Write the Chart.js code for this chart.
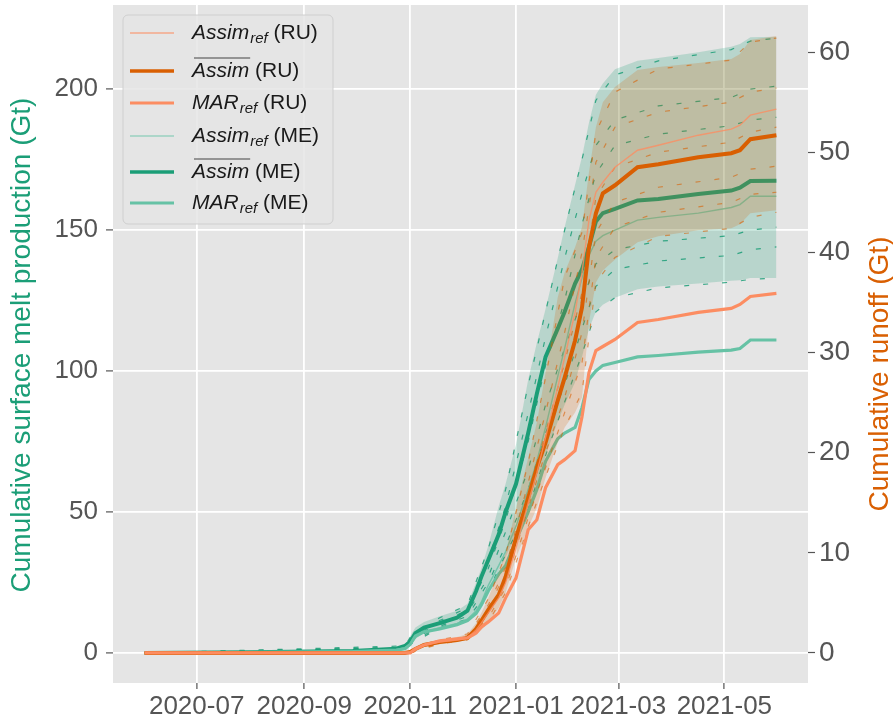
<!DOCTYPE html>
<html>
<head>
<meta charset="utf-8">
<script src="https://cdn.jsdelivr.net/npm/chart.js@4.4.1/dist/chart.umd.min.js"></script>
<style>
  html, body { margin: 0; padding: 0; background: #fff; }
  #wrap { width: 893px; height: 726px; }
</style>
</head>
<body>
<div id="wrap"><canvas id="meltChart" width="893" height="726"></canvas></div>
<script>
// x values are days since 2020-06-01
const dayGrid = [0, 60, 120, 145, 150, 153, 156, 161, 170, 180, 186, 191, 194, 198, 204, 208, 214, 221, 226, 231,
                 238, 242, 248, 252, 256, 260, 264, 271, 284, 296, 319, 338, 343, 349, 364];

// ME : cumulative surface melt production (Gt), left axis
const meanME = [0, 0.3, 0.7, 1.5, 2.5, 4, 7, 9, 10.6, 12.5, 15, 22, 27, 33, 42, 50, 60, 78, 92, 105,
                115, 121, 131, 136, 144, 153, 156, 157.5, 160.5, 161, 162.8, 164, 165, 167.4, 167.5];
const refME  = [0, 0.3, 0.7, 1.2, 2, 3, 5.5, 7.5, 9, 10.5, 12, 15, 18, 24, 31, 36, 45, 58, 68, 80,
                98, 108, 124, 133, 141, 146, 148, 150, 153.5, 154.5, 156, 158, 159, 162, 162];
const marME  = [0, 0.2, 0.5, 1, 1.5, 3, 6, 7.5, 8.5, 10, 11.5, 14, 17, 22, 28, 31, 40, 50, 58, 68,
                76, 78, 80, 87, 97, 100, 102, 103, 105, 105.5, 106.7, 107.4, 108, 111, 111];
const upME   = [0.2, 0.5, 1, 2, 3, 6, 9, 11, 13, 15, 17.5, 25, 30, 38, 52, 60, 74, 97, 110, 122,
                140, 151, 166, 176, 188, 198, 202, 207, 210, 211, 213, 215, 216, 218.4, 218.5];
const loME   = [0, 0.2, 0.5, 1, 1.8, 2.5, 5, 7, 8.5, 10, 12, 15, 18, 22.5, 29, 34, 42, 51, 58.5, 70,
                82, 88, 96, 105, 115, 121, 123.5, 126, 129, 130, 131, 132, 132.2, 133, 133];

// RU : cumulative runoff (Gt), right axis
const meanRU = [0, 0, 0, 0, 0, 0.1, 0.4, 0.8, 1.1, 1.3, 1.5, 2.4, 3.2, 4.3, 5.8, 7.6, 11.5, 15.5, 18.5, 21,
                25.2, 27.5, 31.2, 34.5, 40.5, 43.9, 45.9, 46.7, 48.5, 48.8, 49.5, 49.9, 50.2, 51.3, 51.7];
const refRU  = [0, 0, 0, 0, 0, 0.1, 0.4, 0.8, 1.1, 1.3, 1.5, 2.3, 3, 4, 5.5, 7, 10.5, 15, 18, 21.5,
                26.5, 29.5, 34, 38, 43.2, 46, 47, 48.5, 50.2, 50.7, 51.7, 52.3, 52.7, 53.7, 54.3];
const marRU  = [0, 0, 0, 0, 0, 0, 0.4, 0.8, 1.2, 1.4, 1.5, 2, 2.6, 3.1, 4, 5.5, 7.5, 12.3, 13.3, 16.5,
                18.8, 19.3, 20.2, 23.6, 28, 30.2, 30.6, 31.3, 33, 33.3, 34, 34.4, 34.8, 35.6, 35.9];
const upRU   = [0, 0, 0, 0, 0, 0.2, 0.6, 1, 1.3, 1.6, 1.9, 3, 4, 5.5, 8, 10, 14.5, 19.5, 23, 28,
                35.5, 38, 40.5, 42.5, 48, 52.5, 55, 56.5, 58.2, 58.5, 58.9, 59.3, 59.8, 61.2, 61.6];
const loRU   = [0, 0, 0, 0, 0, 0, 0.3, 0.6, 0.9, 1.1, 1.3, 1.8, 2.3, 3, 4.5, 6, 9.5, 12.5, 14.5, 17.5,
                21, 22.5, 24, 25.5, 33, 37, 38.2, 39.3, 41, 41.6, 42.2, 42.4, 42.8, 43.9, 44.2];

// ensemble members (dashed)
const memberDays = [0, 150, 153, 170, 186, 198, 208, 221, 231, 242, 252, 260, 271, 296, 338, 349, 364];
const ensME = [
  [0, 2.5, 5.5, 12.5, 17, 37, 58, 95, 121, 150, 175, 196, 205, 210, 214, 217, 218],
  [0, 2, 5, 11.5, 16, 33, 52, 85, 112, 140, 163, 180, 189, 194, 197, 200, 201],
  [0, 2, 4.5, 11, 15, 30, 47, 75, 102, 125, 152, 170, 180, 184, 187, 189, 190],
  [0, 1.5, 4, 10, 14, 27, 43, 65, 88, 108, 125, 138, 143, 146, 148, 150, 151],
  [0, 1.5, 3.5, 9.5, 13, 25, 38, 58, 78, 95, 115, 130, 136, 139, 141, 143, 144],
  [0, 1, 3, 9, 12, 22, 35, 51, 70, 89, 106, 121, 126, 129.5, 131.5, 132.5, 133]
];
const ensRU = [
  [0, 0, 0.2, 1.3, 1.9, 5.4, 9.8, 19, 27.5, 37.5, 42, 52, 56, 58.3, 59.2, 61, 61.4],
  [0, 0, 0.1, 1.2, 1.7, 4.8, 8.5, 17, 24, 32, 40, 49, 52.5, 54, 55, 56, 56.4],
  [0, 0, 0.1, 1.1, 1.6, 4.5, 8, 16, 22, 29, 36, 45.5, 48.5, 50, 51, 52, 52.5],
  [0, 0, 0.1, 1.0, 1.5, 4.0, 7, 14.5, 20, 25.5, 32, 42, 45, 46.5, 47.5, 48.3, 48.6],
  [0, 0, 0, 1.0, 1.4, 3.5, 6.5, 13.5, 18.5, 24, 29, 39.5, 42.5, 44, 45, 45.8, 46],
  [0, 0, 0, 0.9, 1.3, 3.1, 6, 12.6, 17.6, 22.5, 26, 37, 39.5, 41.6, 42.4, 43.5, 44]
];

const xTickDays = [30, 92, 153, 214, 273, 334];
const xTickLabels = ['2020-07', '2020-09', '2020-11', '2021-01', '2021-03', '2021-05'];
const leftTicks = [0, 50, 100, 150, 200];
const rightTicks = [0, 10, 20, 30, 40, 50, 60];

const GREEN = '#1b9e77', ORANGE = '#d95f02', LGREEN = '#66c2a5', LORANGE = '#fc8d62';
const FONT = '"Liberation Sans", Arial, sans-serif';

function pts(days, vals) {
  return vals.map((v, i) => ({ x: days[i], y: v }));
}

function line(label, vals, axis, color, width, order) {
  return { label, data: pts(dayGrid, vals), yAxisID: axis, borderColor: color,
           borderWidth: width, pointRadius: 0, fill: false, order };
}

const datasets = [
  // ME band
  { data: pts(dayGrid, upME), yAxisID: 'yL', borderWidth: 0, pointRadius: 0,
    fill: '+1', backgroundColor: 'rgba(27,158,119,0.22)', order: 6 },
  { data: pts(dayGrid, loME), yAxisID: 'yL', borderWidth: 0, pointRadius: 0, fill: false, order: 6 },
  // RU band
  { data: pts(dayGrid, upRU), yAxisID: 'yR', borderWidth: 0, pointRadius: 0,
    fill: '+1', backgroundColor: 'rgba(217,95,2,0.2)', order: 3 },
  { data: pts(dayGrid, loRU), yAxisID: 'yR', borderWidth: 0, pointRadius: 0, fill: false, order: 3 }
];

ensME.forEach(m => datasets.push({ data: pts(memberDays, m), yAxisID: 'yL', borderColor: 'rgba(27,158,119,0.85)',
  borderWidth: 1.2, borderDash: [5, 14], pointRadius: 0, fill: false, order: 5 }));
ensRU.forEach(m => datasets.push({ data: pts(memberDays, m), yAxisID: 'yR', borderColor: 'rgba(217,95,2,0.6)',
  borderWidth: 1.2, borderDash: [5, 14], pointRadius: 0, fill: false, order: 2 }));

datasets.push(
  line('Assim_ref (ME)', refME, 'yL', 'rgba(102,194,165,0.85)', 1.4, 4),
  line('MAR_ref (ME)', marME, 'yL', LGREEN, 3.2, 4),
  line('Assim (ME)', meanME, 'yL', GREEN, 4, 4),
  line('Assim_ref (RU)', refRU, 'yR', 'rgba(252,141,98,0.8)', 1.4, 1),
  line('MAR_ref (RU)', marRU, 'yR', LORANGE, 3.2, 1),
  line('Assim (RU)', meanRU, 'yR', ORANGE, 4, 1)
);

const legendItems = [
  { main: 'Assim', sub: 'ref', tag: ' (RU)', bar: false, color: 'rgba(252,141,98,0.7)', width: 1.5 },
  { main: 'Assim', sub: '', tag: ' (RU)', bar: true, color: ORANGE, width: 3.5 },
  { main: 'MAR', sub: 'ref', tag: ' (RU)', bar: false, color: LORANGE, width: 3.2 },
  { main: 'Assim', sub: 'ref', tag: ' (ME)', bar: false, color: 'rgba(102,194,165,0.6)', width: 1.5 },
  { main: 'Assim', sub: '', tag: ' (ME)', bar: true, color: GREEN, width: 3.5 },
  { main: 'MAR', sub: 'ref', tag: ' (ME)', bar: false, color: LGREEN, width: 3.2 }
];
const legendRows = [33, 71, 103, 136, 172, 203];

const panelBg = {
  id: 'panelBg',
  beforeDraw(chart) {
    const { ctx, chartArea: a } = chart;
    ctx.save();
    ctx.fillStyle = '#e5e5e5';
    ctx.fillRect(a.left, a.top, a.right - a.left, a.bottom - a.top);
    ctx.restore();
  }
};

const overlay = {
  id: 'overlay',
  afterDraw(chart) {
    const ctx = chart.ctx;
    const a = chart.chartArea;
    ctx.save();
    // axis titles
    ctx.textAlign = 'center';
    ctx.textBaseline = 'middle';
    ctx.font = '28px ' + FONT;
    ctx.fillStyle = GREEN;
    ctx.save(); ctx.translate(22, 345); ctx.rotate(-Math.PI / 2);
    ctx.fillText('Cumulative surface melt production (Gt)', 0, 0); ctx.restore();
    ctx.fillStyle = ORANGE;
    ctx.save(); ctx.translate(880, 374); ctx.rotate(-Math.PI / 2);
    ctx.fillText('Cumulative runoff (Gt)', 0, 0); ctx.restore();

    // legend box
    const bx = a.left + 10, by = 15, bw = 210, bh = 209, r = 5;
    ctx.beginPath();
    ctx.moveTo(bx + r, by);
    ctx.arcTo(bx + bw, by, bx + bw, by + bh, r);
    ctx.arcTo(bx + bw, by + bh, bx, by + bh, r);
    ctx.arcTo(bx, by + bh, bx, by, r);
    ctx.arcTo(bx, by, bx + bw, by, r);
    ctx.closePath();
    ctx.fillStyle = 'rgba(229,229,229,0.85)';
    ctx.fill();
    ctx.strokeStyle = 'rgba(204,204,204,0.9)';
    ctx.lineWidth = 1;
    ctx.stroke();

    ctx.textAlign = 'left';
    legendItems.forEach((it, i) => {
      const y = legendRows[i];
      ctx.strokeStyle = it.color;
      ctx.lineWidth = it.width;
      ctx.beginPath(); ctx.moveTo(bx + 7, y); ctx.lineTo(bx + 51, y); ctx.stroke();
      let x = bx + 69;
      ctx.fillStyle = '#1a1a1a';
      ctx.font = 'italic 21px ' + FONT;
      ctx.fillText(it.main, x, y);
      const w = ctx.measureText(it.main).width;
      if (it.bar) {
        ctx.strokeStyle = '#444';
        ctx.lineWidth = 1.2;
        ctx.beginPath(); ctx.moveTo(x + 2, y - 13); ctx.lineTo(x + w + 1, y - 13); ctx.stroke();
      }
      x += w;
      if (it.sub) {
        ctx.font = 'italic 15px ' + FONT;
        ctx.fillText(it.sub, x + 1, y + 6);
        x += ctx.measureText(it.sub).width + 1;
      }
      ctx.font = '21px ' + FONT;
      ctx.fillText(it.tag, x, y);
    });
    ctx.restore();
  }
};

function noPad(s) {
  s.paddingTop = 0; s.paddingBottom = 0; s.paddingLeft = 0; s.paddingRight = 0;
}

new Chart(document.getElementById('meltChart'), {
  type: 'line',
  data: { datasets },
  options: {
    responsive: false,
    animation: false,
    events: [],
    layout: { padding: { top: 5, left: 0, right: 0, bottom: 0 } },
    plugins: { legend: { display: false }, tooltip: { enabled: false } },
    elements: { line: { tension: 0 } },
    scales: {
      x: {
        type: 'linear',
        min: -18.2,
        max: 382.2,
        afterBuildTicks: s => { s.ticks = xTickDays.map(v => ({ value: v })); },
        afterFit: s => { s.height = 43; noPad(s); },
        ticks: {
          callback: v => xTickLabels[xTickDays.indexOf(v)],
          color: '#555', font: { family: FONT, size: 26 }, padding: 2, maxRotation: 0, autoSkip: false
        },
        grid: { color: '#fff', lineWidth: 1.8, tickColor: '#555', tickWidth: 1.2, tickLength: 6 },
        border: { display: false }
      },
      yL: {
        type: 'linear',
        position: 'left',
        min: -10.64,
        max: 229.8,
        afterBuildTicks: s => { s.ticks = leftTicks.map(v => ({ value: v })); },
        afterFit: s => { s.width = 113; noPad(s); },
        ticks: { color: '#555', font: { family: FONT, size: 26 }, padding: 8 },
        grid: { color: '#fff', lineWidth: 1.8, tickColor: '#555', tickWidth: 1.2, tickLength: 7 },
        border: { display: false }
      },
      yR: {
        type: 'linear',
        position: 'right',
        min: -3.0,
        max: 64.7,
        afterBuildTicks: s => { s.ticks = rightTicks.map(v => ({ value: v })); },
        afterFit: s => { s.width = 85; noPad(s); },
        ticks: { color: '#555', font: { family: FONT, size: 28 }, padding: 4 },
        grid: { drawOnChartArea: false, tickColor: '#555', tickWidth: 1.2, tickLength: 7 },
        border: { display: false }
      }
    }
  },
  plugins: [panelBg, overlay]
});
</script>
</body>
</html>
